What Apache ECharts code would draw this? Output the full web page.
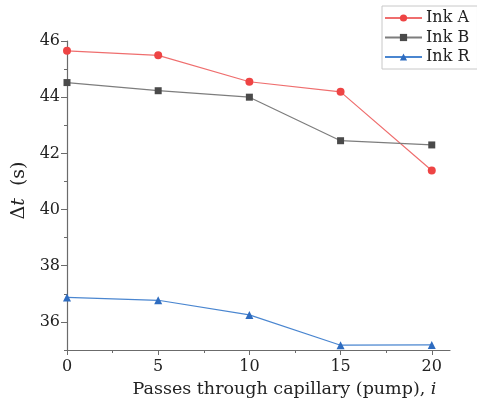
<!DOCTYPE html>
<html><head><meta charset="utf-8">
<script src="https://cdn.jsdelivr.net/npm/echarts@6/dist/echarts.min.js"></script>
<style>html,body{margin:0;padding:0;background:#fff}#c{width:477px;height:406px}</style>
</head><body><div id="c"></div>
<script>
const passes = [0, 5, 10, 15, 20];
const inkA = [45.65, 45.49, 44.55, 44.19, 41.39];
const inkB = [44.52, 44.23, 44.00, 42.45, 42.30];
const inkR = [36.87, 36.77, 36.25, 35.17, 35.18];
const xTickLabels = [0, 5, 10, 15, 20];
const xMinorTicks = [2.5, 7.5, 12.5, 17.5];
const yTickLabels = [36, 38, 40, 42, 44, 46];
const yMinorTicks = [35, 37, 39, 41, 43, 45];

const FONT = 'DejaVu Serif';
const axisColor = '#6b6b6b';
const chart = echarts.init(document.getElementById('c'));
const pair = arr => passes.map((x, i) => [x, arr[i]]);
function mkSeries(name, data, lineColor, markColor, symbol, size) {
  return {
    name, type: 'line', data: pair(data), symbol, symbolSize: size,
    lineStyle: {color: lineColor, width: 1.2},
    itemStyle: {color: markColor, borderWidth: 0},
    emphasis: {disabled: true}, animation: false, z: 3
  };
}
chart.setOption({
  animation: false,
  textStyle: {fontFamily: FONT},
  grid: {left: 67, right: 27, top: 41, bottom: 56, containLabel: false},
  legend: {
    orient: 'vertical', left: 382, top: 6,
    padding: [4, 8, 4, 2], itemGap: 3.5, itemWidth: 37, itemHeight: 9,
    borderColor: '#c8c8c8', borderWidth: 1,
    textStyle: {fontFamily: FONT, fontSize: 16, color: '#222', lineHeight: 16, padding: [0,0,0,-1]},
    data: ['Ink A', 'Ink B', 'Ink R']
  },
  xAxis: [{
    type: 'value', min: 0, max: 21,
    name: 'Passes through capillary (pump), {i|i}',
    nameLocation: 'middle', nameGap: 30,
    nameTextStyle: {fontFamily: FONT, fontSize: 17.5, color: '#222', padding: [0, 0, 0, 52],
      rich: {i: {fontFamily: FONT, fontStyle: 'italic', fontSize: 17.5, color: '#222'}}},
    axisLine: {show: true, lineStyle: {color: axisColor, width: 1.2}},
    axisTick: {show: true, length: 5, customValues: xTickLabels, lineStyle: {color: axisColor}},
    axisLabel: {customValues: xTickLabels, fontFamily: FONT, fontSize: 16, color: '#222', margin: 9},
    splitLine: {show: false}
  }, {
    type: 'value', min: 0, max: 21, position: 'bottom',
    axisLine: {show: false},
    axisTick: {show: true, length: 3, customValues: xMinorTicks, lineStyle: {color: axisColor}},
    axisLabel: {show: false}, splitLine: {show: false}
  }],
  yAxis: [{
    type: 'value', min: 35, max: 46, position: 'left',
    name: '{a|Δ}{b|t}{a|  (s)}',
    nameLocation: 'middle', nameGap: 36,
    nameTextStyle: {padding: [0, 0, 0, 10],
      rich: {a: {fontFamily: FONT, fontSize: 19, color: '#222'},
             b: {fontFamily: FONT, fontSize: 19, fontStyle: 'italic', color: '#222'}}},
    axisLine: {show: true, lineStyle: {color: axisColor, width: 1.2}},
    axisTick: {show: true, length: 6, customValues: yTickLabels, lineStyle: {color: axisColor}},
    axisLabel: {customValues: yTickLabels, fontFamily: FONT, fontSize: 16, color: '#222', margin: 7},
    splitLine: {show: false}
  }, {
    type: 'value', min: 35, max: 46, position: 'left',
    axisLine: {show: false},
    axisTick: {show: true, length: 3, customValues: yMinorTicks, lineStyle: {color: axisColor}},
    axisLabel: {show: false}, splitLine: {show: false}
  }],
  series: [
    mkSeries('Ink A', inkA, '#ef6e6e', '#ee4444', 'circle', 8),
    mkSeries('Ink B', inkB, '#7d7d7d', '#4a4a4a', 'rect', 7),
    mkSeries('Ink R', inkR, '#4a86d0', '#2e6cc0', 'triangle', 8)
  ]
});
</script></body></html>
